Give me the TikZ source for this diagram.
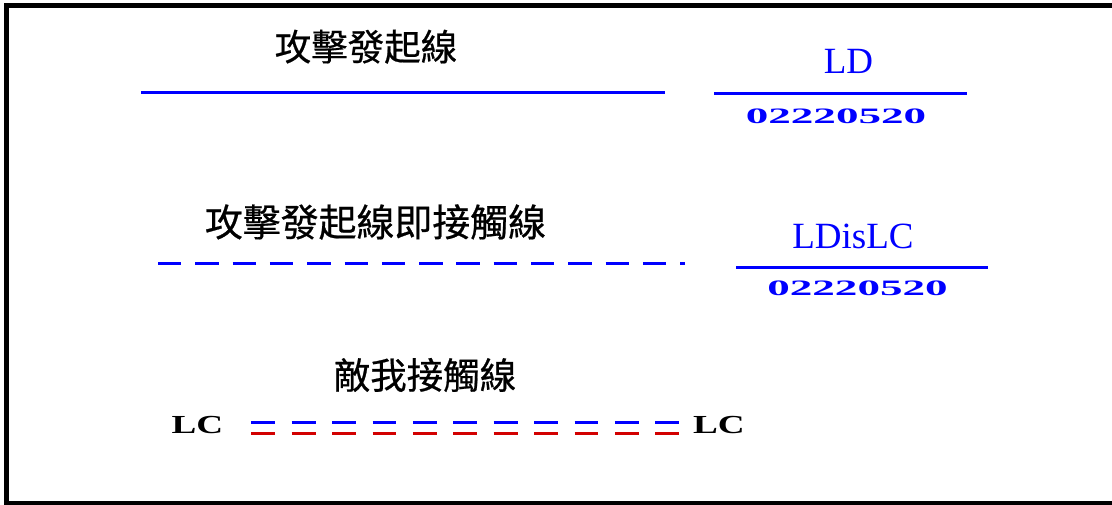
\documentclass[tikz,border=0pt]{standalone}
\usepackage{fontspec}
\setmainfont{Liberation Serif}
\newfontfamily\cjk[FakeBold=0.6]{Noto Sans CJK TC}
\definecolor{lblue}{RGB}{0,0,255}
\definecolor{lred}{RGB}{210,0,0}
\begin{document}
\begin{tikzpicture}[x=1pt,y=-1pt,
  cjktext/.style={inner sep=0pt, font=\cjk\fontsize{36.5}{40}\selectfont},
  cjkwide/.style={inner sep=0pt, font=\cjk\fontsize{37.9}{42}\selectfont},
  labtext/.style={inner sep=0pt, anchor=base, text=lblue, font=\fontsize{37}{42}\selectfont},
  numtext/.style={inner sep=0pt, anchor=base, text=lblue, font=\bfseries\fontsize{22}{26}\selectfont, xscale=2.05},
  lctext/.style={inner sep=0pt, anchor=base, text=black, font=\bfseries\fontsize{26}{30}\selectfont, xscale=1.43},
  solidline/.style={lblue, line width=3pt},
  bluedash/.style={lblue, line width=3pt, dash pattern=on 23.4pt off 13.9pt},
  dbldash/.style={line width=3pt, dash pattern=on 23.8pt off 16.6pt},
  frameline/.style={black, line width=5pt, line join=miter}
]
\useasboundingbox (0,0) rectangle (1112,505);
% frame (open on the right)
\coordinate (ftr) at (1125,6);
\coordinate (ftl) at (6.5,6);
\coordinate (fbl) at (6.5,503);
\coordinate (fbr) at (1125,503);
\draw[frameline] (ftr) -- (ftl) -- (fbl) -- (fbr);

% row 1
\node[cjktext] (t1) at (366,46.7) {攻擊發起線};
\coordinate (l1a) at (141,92.5);
\coordinate (l1b) at (665,92.5);
\draw[solidline] (l1a) -- (l1b);
\node[labtext] (ld) at (848.5,73.3) {LD};
\coordinate (r1a) at (714,93.5);
\coordinate (r1b) at (967,93.5);
\draw[solidline] (r1a) -- (r1b);
\node[numtext] (n1) at (836,124) {02220520};

% row 2
\node[cjkwide] (t2) at (375.5,222) {攻擊發起線即接觸線};
\coordinate (l2a) at (158,264);
\coordinate (l2b) at (685,264);
\draw[bluedash] (l2a) -- (l2b);
\node[labtext] (ldlc) at (853,249) {LDisLC};
\coordinate (r2a) at (736,267.3);
\coordinate (r2b) at (988,267.3);
\draw[solidline] (r2a) -- (r2b);
\node[numtext] (n2) at (857.5,296) {02220520};

% row 3
\node[cjktext] (t3) at (425,375) {敵我接觸線};
\node[lctext] (lc1) at (197.5,433.3) {LC};
\node[lctext] (lc2) at (719,433.3) {LC};
\coordinate (b1) at (251.3,422.5);
\coordinate (b2) at (679,422.5);
\coordinate (rd1) at (251.3,433.5);
\coordinate (rd2) at (679,433.5);
\draw[dbldash, lblue] (b1) -- (b2);
\draw[dbldash, lred] (rd1) -- (rd2);
\end{tikzpicture}
\end{document}
